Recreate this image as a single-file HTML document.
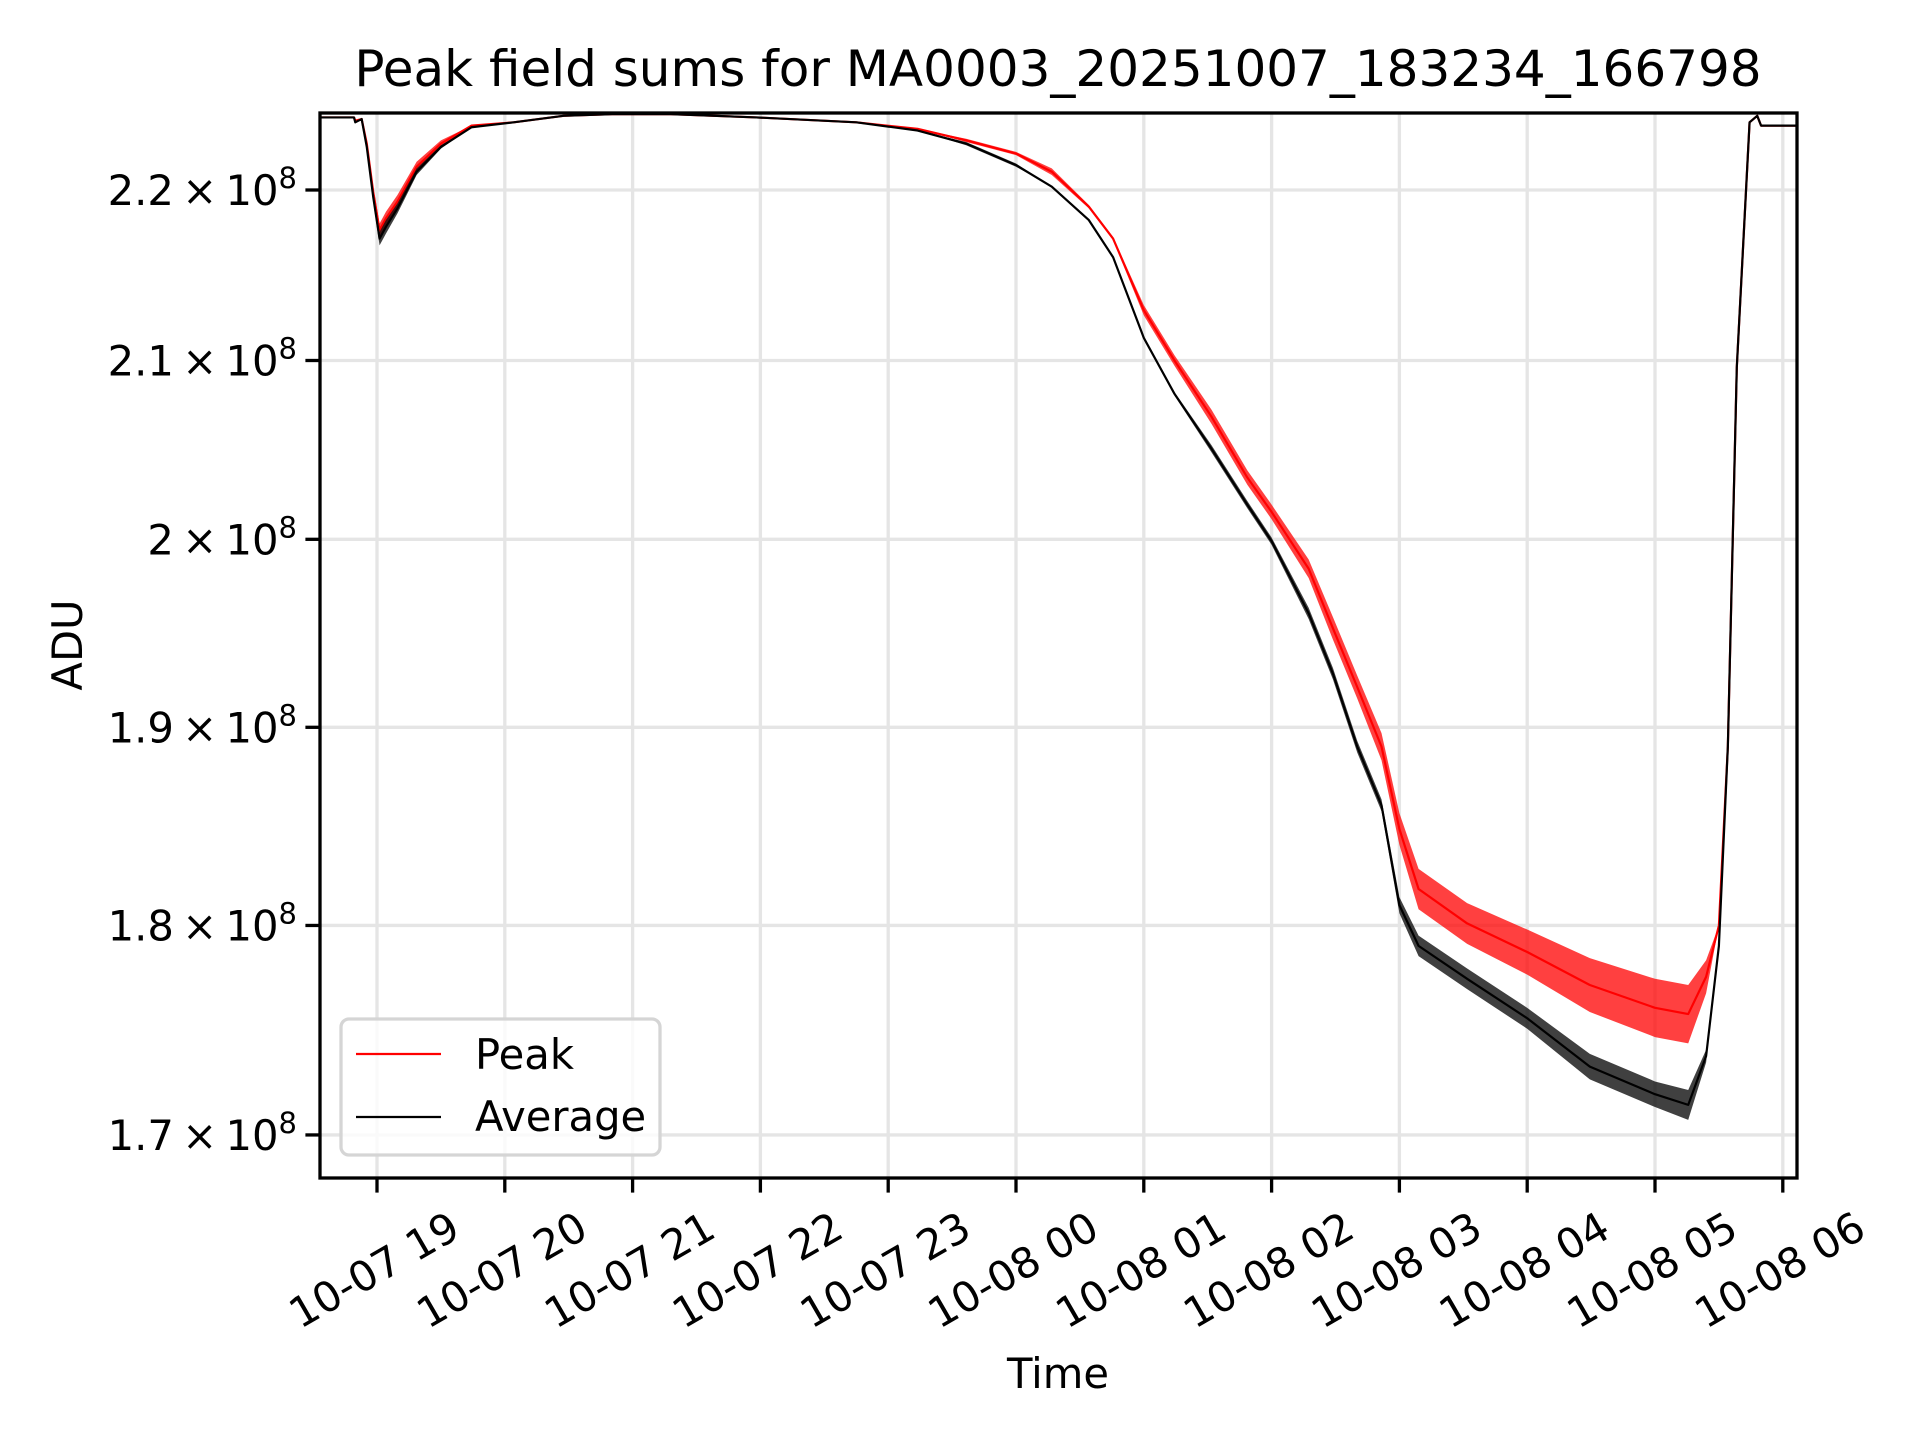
<!DOCTYPE html>
<html><head><meta charset="utf-8"><style>
html,body{margin:0;padding:0;background:#fff;}
svg{display:block;font-family:"DejaVu Sans","Liberation Sans",sans-serif;}
</style></head><body>
<svg id="chart" width="1920" height="1440" viewBox="0 0 1920 1440" xmlns="http://www.w3.org/2000/svg">
<rect width="1920" height="1440" fill="#fff"/>
<g id="grid"></g>
<g id="series"></g>
<rect x="320" y="113" width="1477" height="1065" fill="none" stroke="#000" stroke-width="3.3"/>
<g id="ticks"></g>
<text x="1058" y="86" font-size="50" text-anchor="middle">Peak field sums for MA0003_20251007_183234_166798</text>
<text x="1058" y="1388" font-size="41.7" text-anchor="middle">Time</text>
<text transform="translate(82,645) rotate(-90)" font-size="41.7" text-anchor="middle">ADU</text>
<g>
<rect x="341" y="1019" width="319" height="136" rx="8" fill="#fff" fill-opacity="0.8" stroke="#d5d5d5" stroke-width="3.3"/>
<line x1="356" y1="1054" x2="441" y2="1054" stroke="#ff0000" stroke-width="2.2"/>
<text x="475" y="1069" font-size="41.7">Peak</text>
<line x1="356" y1="1117" x2="441" y2="1117" stroke="#000" stroke-width="2.2"/>
<text x="475" y="1131" font-size="41.7">Average</text>
</g>
</svg>
<script>
// hours since 10-07 19:00
const times = [-0.45,-0.18,-0.17,-0.12,-0.08,-0.03,0.02,0.07,0.16,0.31,0.50,0.74,1.07,1.46,1.84,2.3,2.97,3.75,4.23,4.61,5.0,5.28,5.57,5.76,6.0,6.24,6.53,6.81,7.0,7.29,7.48,7.67,7.86,8.0,8.15,8.53,9.0,9.49,10.0,10.26,10.40,10.50,10.57,10.64,10.74,10.80,10.83,11.11];
// values in units of 1e8 ADU
const averageValues = [2.244,2.244,2.241,2.243,2.226,2.196,2.171,2.178,2.189,2.211,2.226,2.238,2.241,2.245,2.246,2.246,2.244,2.241,2.236,2.228,2.215,2.202,2.182,2.160,2.113,2.081,2.050,2.019,1.999,1.960,1.928,1.890,1.860,1.810,1.790,1.774,1.755,1.732,1.719,1.714,1.737,1.790,1.890,2.096,2.241,2.245,2.239,2.239];
const peakValues = [2.244,2.244,2.242,2.243,2.228,2.199,2.176,2.183,2.193,2.214,2.228,2.239,2.241,2.245,2.246,2.246,2.244,2.241,2.237,2.230,2.222,2.211,2.190,2.171,2.129,2.100,2.068,2.034,2.015,1.984,1.952,1.921,1.890,1.848,1.818,1.801,1.787,1.771,1.760,1.757,1.775,1.800,1.890,2.096,2.241,2.245,2.239,2.239];
// observed noise half-width (1e8 units)
const averageNoise = [0,0,0,0,0,0.003,0.004,0.004,0.003,0.002,0.001,0,0,0,0,0,0,0,0,0.001,0.001,0,0,0,0.001,0.001,0.002,0.002,0.002,0.003,0.003,0.003,0.003,0.004,0.005,0.005,0.005,0.006,0.006,0.007,0.003,0,0,0,0,0,0,0];
const peakNoise = [0,0,0,0,0,0.003,0.004,0.004,0.004,0.003,0.002,0,0,0,0,0,0,0,0,0.001,0.001,0.002,0.001,0.001,0.003,0.003,0.004,0.004,0.004,0.005,0.006,0.006,0.007,0.008,0.010,0.010,0.011,0.013,0.014,0.014,0.008,0,0,0,0,0,0,0];
const yTickValues = [2.2,2.1,2.0,1.9,1.8,1.7];
const yTickLabels = ["2.2","2.1","2","1.9","1.8","1.7"];
const xTickHours = [0,1,2,3,4,5,6,7,8,9,10,11];
const xTickLabels = ["10-07 19","10-07 20","10-07 21","10-07 22","10-07 23","10-08 00","10-08 01","10-08 02","10-08 03","10-08 04","10-08 05","10-08 06"];

const NS="http://www.w3.org/2000/svg";
const X0=320,X1=1797,Y0=113,Y1=1178;
function xs(h){return 377+127.8*h;}
function ys(v){return 190+3665*Math.log(2.2/v);}
function mk(tag,attrs,parent){const e=document.createElementNS(NS,tag);for(const k in attrs)e.setAttribute(k,attrs[k]);parent.appendChild(e);return e;}
const grid=document.getElementById('grid'),ticks=document.getElementById('ticks'),ser=document.getElementById('series');

xTickHours.forEach((h,i)=>{
  const x=xs(h);
  if(x<=X1){const g=mk('line',{x1:x,y1:Y0,x2:x,y2:Y1,stroke:'#e5e5e5','stroke-width':3.3},grid);
  
  }
  const t=mk('line',{x1:x,y1:Y1,x2:x,y2:Y1+14.6,stroke:'#000','stroke-width':3.3},ticks);
  
  
  const l=mk('text',{transform:`translate(${x-3},1270) rotate(-30)`,'font-size':41.7,'text-anchor':'middle','dominant-baseline':'central'},ticks);
  l.textContent=xTickLabels[i];
  
  
});
yTickValues.forEach((v,i)=>{
  const y=ys(v);
  const g=mk('line',{x1:X0,y1:y,x2:X1,y2:y,stroke:'#e5e5e5','stroke-width':3.3},grid);
  
  
  const t=mk('line',{x1:X0-14.6,y1:y,x2:X0,y2:y,stroke:'#000','stroke-width':3.3},ticks);
  
  
  const l=mk('text',{x:297,y:y+15,'font-size':41.7,'text-anchor':'end'},ticks);
  l.innerHTML=yTickLabels[i]+'\u2009×\u200910<tspan font-size="29" dy="-17">8</tspan>';
  
  
});

function draw(vals,noise,color,name,op){
  let up=[],dn=[];
  times.forEach((h,i)=>{up.push(xs(h)+','+ys(vals[i]+noise[i]));dn.unshift(xs(h)+','+ys(vals[i]-noise[i]));});
  const band=mk('polygon',{points:up.concat(dn).join(' '),fill:color,'fill-opacity':op},ser);
  
  
  const pts=times.map((h,i)=>xs(h)+','+ys(vals[i])).join(' ');
  const line=mk('polyline',{points:pts,fill:'none',stroke:color,'stroke-width':2.2,'stroke-linejoin':'round'},ser);
  
  
}
const clip=mk('clipPath',{id:'plotclip'},document.getElementById('chart'));
mk('rect',{x:X0,y:Y0,width:X1-X0,height:Y1-Y0},clip);
ser.setAttribute('clip-path','url(#plotclip)');
draw(peakValues,peakNoise,'#ff0000','peak',0.75);
draw(averageValues,averageNoise,'#000000','average',0.75);
</script>
</body></html>
